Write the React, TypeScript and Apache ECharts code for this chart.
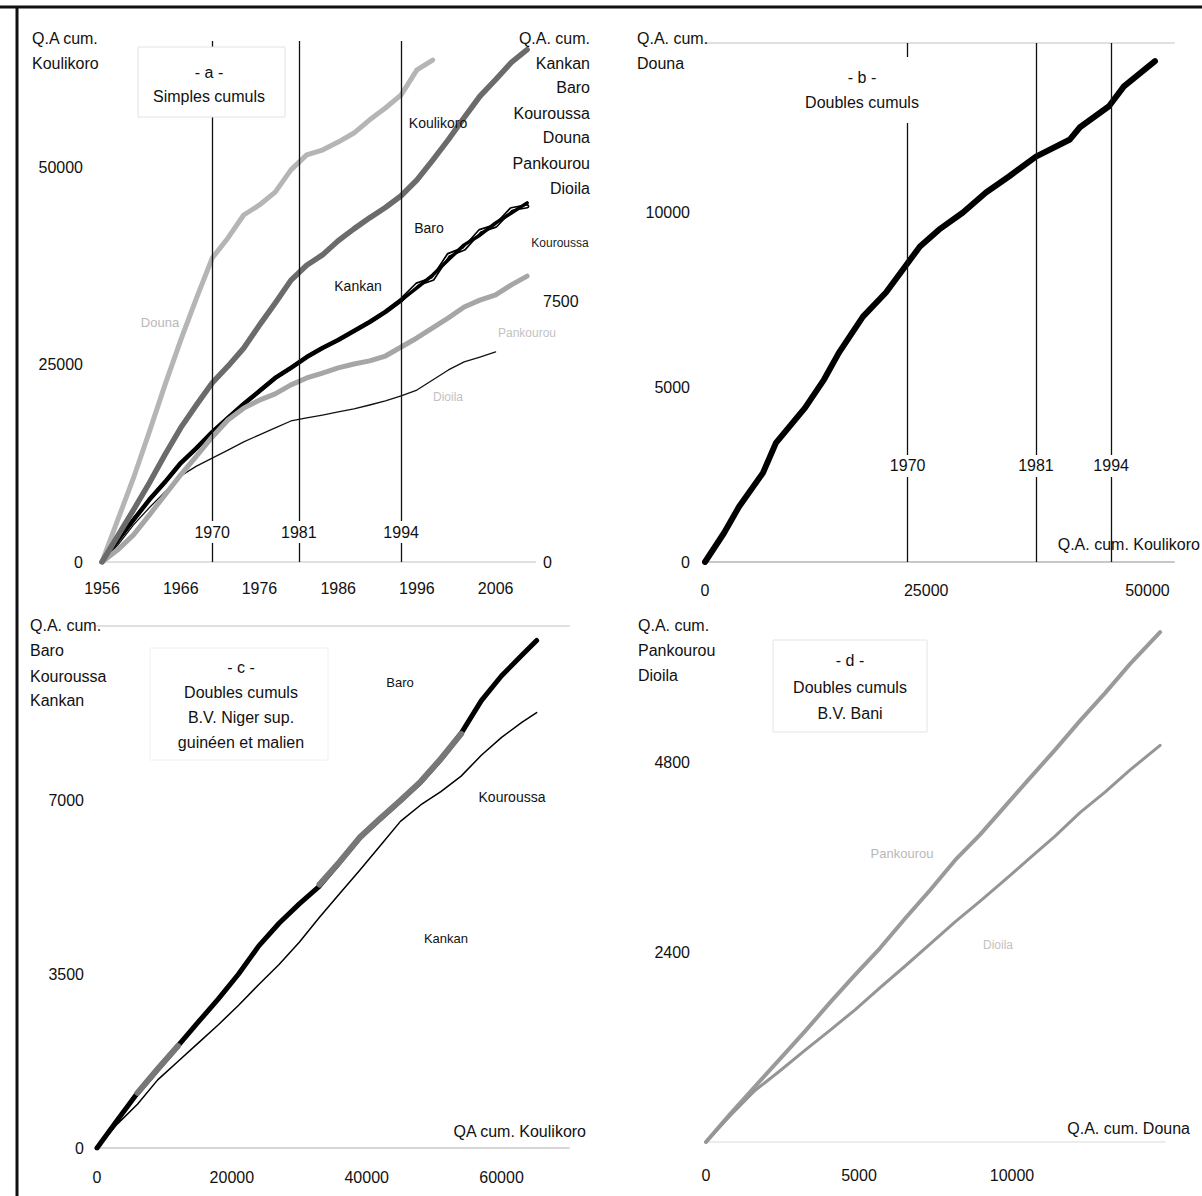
import React, { useEffect, useRef } from "react";
import * as echarts from "echarts";

const FONT = '"Liberation Sans", Arial, Helvetica, sans-serif';

// ---------- Panel a : simples cumuls (années) ----------
const yearsA = [1956, 1958, 1960, 1962, 1964, 1966, 1968, 1970, 1972, 1974, 1976, 1978, 1980, 1982, 1984, 1986, 1988, 1990, 1992, 1994, 1996, 1998, 2000, 2002, 2004, 2006, 2008, 2010];
const koulikoroA = [0, 3300, 6600, 10000, 13600, 17000, 19900, 22700, 24800, 27100, 30000, 32800, 35700, 37600, 38900, 40700, 42200, 43600, 44900, 46400, 48400, 50900, 53500, 56300, 59000, 61100, 63300, 64900];
const dounaA = [0, 1210, 2420, 3740, 5100, 6390, 7600, 8750, 9330, 9990, 10280, 10650, 11290, 11720, 11860, 12090, 12350, 12730, 13070, 13450, 14170, 14450];
const kankanA = [0, 630, 1210, 1790, 2300, 2850, 3280, 3740, 4150, 4550, 4920, 5300, 5590, 5900, 6160, 6390, 6650, 6910, 7200, 7540, 7890, 8260, 8700, 9130, 9410, 9760, 10050, 10340];
const baroA = [0, 630, 1210, 1790, 2300, 2850, 3280, 3740, 4150, 4550, 4920, 5300, 5590, 5900, 6160, 6390, 6650, 6910, 7200, 7540, 7990, 8150, 8840, 9020, 9530, 9680, 10160, 10240];
const pankourouA = [0, 350, 780, 1350, 1930, 2510, 3050, 3600, 4090, 4430, 4660, 4840, 5100, 5300, 5440, 5590, 5700, 5790, 5930, 6190, 6450, 6740, 7030, 7340, 7540, 7690, 7980, 8230];
const dioilaA = [0, 490, 1070, 1560, 2020, 2480, 2760, 2990, 3220, 3460, 3660, 3860, 4060, 4150, 4230, 4320, 4410, 4520, 4640, 4780, 4950, 5240, 5530, 5760, 5900, 6050];
const yearTicksA = [1956, 1966, 1976, 1986, 1996, 2006];
const leftTicksA = [0, 25000, 50000];
const rightTicksA = [0, 7500];
const yearMarks = [1970, 1981, 1994];
const yearNames = ["1970", "1981", "1994"];
const yearLabelLevelA = 3800; // hauteur des étiquettes d'années (axe gauche)

// ---------- Panel b : doubles cumuls Douna / Koulikoro ----------
const bKoulikoro = [0, 2150, 3840, 6550, 8020, 11300, 13450, 15140, 17850, 20450, 22600, 24290, 26440, 29150, 31750, 34350, 37400, 41240, 42370, 45650, 47340, 50850];
const bDouna = [0, 830, 1580, 2550, 3410, 4410, 5220, 5990, 7020, 7710, 8450, 9030, 9510, 10000, 10570, 11030, 11600, 12090, 12440, 13040, 13610, 14330];
const bYearMarks = [22900, 37400, 45900];
const bXTicks = [0, 25000, 50000];
const bYTicks = [0, 5000, 10000];
const yearLabelLevelB = 2750;

// ---------- Panel c : doubles cumuls B.V. Niger ----------
const cKoulikoro = [0, 3000, 6000, 9000, 12000, 15000, 18000, 21000, 24000, 27000, 30000, 33000, 36000, 39000, 42000, 45000, 48000, 51000, 54000, 57000, 60000, 63000, 65200];
const cKankan = [0, 560, 1106, 1580, 2055, 2530, 3000, 3500, 4065, 4520, 4910, 5270, 5750, 6245, 6620, 6985, 7360, 7820, 8340, 9000, 9500, 9910, 10210];
const cBaro = [null, null, 1110, 1590, 2050, null, null, null, null, null, null, 5300, 5760, 6250, 6630, 6990, 7370, 7830, 8330, null, null, null, null];
const cKouroussa = [0, 480, 880, 1370, 1740, 2110, 2480, 2870, 3290, 3690, 4140, 4640, 5120, 5590, 6080, 6570, 6900, 7170, 7480, 7900, 8260, 8560, 8760];
const cXTicks = [0, 20000, 40000, 60000];
const cYTicks = [0, 3500, 7000];

// ---------- Panel d : doubles cumuls B.V. Bani ----------
const dDouna = [0, 780, 1600, 2420, 3240, 4050, 4870, 5690, 6500, 7320, 8140, 8950, 9770, 10590, 11400, 12220, 13040, 13860, 14840];
const dPankourou = [0, 350, 700, 1050, 1400, 1760, 2110, 2450, 2820, 3180, 3560, 3880, 4240, 4600, 4950, 5320, 5670, 6040, 6440];
const dDioila = [0, 330, 650, 900, 1160, 1410, 1670, 1950, 2220, 2500, 2780, 3040, 3310, 3590, 3860, 4160, 4420, 4700, 5010];
const dXTicks = [0, 5000, 10000];
const dYTicks = [2400, 4800];

const pairs = (xs: number[], ys: (number | null)[]) =>
  ys.map((y, i) => [xs[i], y]);

const only = (list: number[]) => (v: number) => (list.includes(v) ? String(v) : "");

const labelStyle = { fontFamily: FONT, fontSize: 16, color: "#111" };

function lineSeries(name: string, xi: number, yi: number, data: any[], color: string, width: number, extra: any = {}) {
  return {
    name,
    type: "line",
    xAxisIndex: xi,
    yAxisIndex: yi,
    data,
    showSymbol: false,
    symbol: "none",
    connectNulls: false,
    lineStyle: { color, width, cap: "round", join: "round" },
    emphasis: { disabled: true },
    silent: true,
    ...extra,
  };
}

function txt(text: string, x: number, y: number, align: string, size = 16, fill = "#111", extra: any = {}) {
  return {
    type: "text",
    x,
    y,
    z: 100,
    silent: true,
    style: {
      text,
      fill,
      font: `${size}px ${FONT}`,
      textAlign: align,
      textVerticalAlign: "middle",
      ...extra,
    },
  };
}

function box(x: number, y: number, w: number, h: number, stroke = "none") {
  return {
    type: "rect",
    z: 90,
    silent: true,
    shape: { x, y, width: w, height: h },
    style: { fill: "#fff", stroke, lineWidth: 1 },
  };
}

function yearMarkerSeries(xi: number, yi: number, marks: number[], level: number) {
  return {
    type: "scatter",
    xAxisIndex: xi,
    yAxisIndex: yi,
    z: 5,
    silent: true,
    symbolSize: 0,
    itemStyle: { opacity: 1 },
    data: marks.map((m) => [m, level]),
    label: {
      show: true,
      position: "inside",
      formatter: (p: any) => yearNames[p.dataIndex],
      fontFamily: FONT,
      fontSize: 16,
      color: "#111",
      opacity: 1,
      textBorderWidth: 0,
      textBorderColor: "transparent",
      backgroundColor: "#fff",
      padding: [3, 2],
    },
    markLine: {
      silent: true,
      symbol: ["none", "none"],
      label: { show: false },
      lineStyle: { color: "#111", width: 1.3, type: "solid" },
      emphasis: { disabled: true },
      data: marks.map((m) => ({ xAxis: m })),
    },
  };
}

export default function App() {
  const ref = useRef<HTMLDivElement>(null);

  useEffect(() => {
    if (!ref.current) return;
    const chart = echarts.init(ref.current, undefined, { renderer: "svg" });

    const bottomAxisLine = (color: string) => ({ show: true, lineStyle: { color, width: 2 } });
    const hiddenTop = (gridIndex: number, min: number, max: number) => ({
      type: "value",
      gridIndex,
      position: "top",
      min,
      max,
      axisLine: { show: true, lineStyle: { color: "#e0e0e0", width: 2 } },
      axisTick: { show: false },
      axisLabel: { show: false },
      splitLine: { show: false },
    });

    const option: any = {
      animation: false,
      backgroundColor: "#fff",
      grid: [
        { left: 102, top: 41, right: 667, bottom: 634, outerBoundsMode: "none" },
        { left: 705, top: 43, right: 28, bottom: 634, outerBoundsMode: "none" },
        { left: 97, top: 626, right: 633, bottom: 48, outerBoundsMode: "none" },
        { left: 706, top: 572, right: 37, bottom: 54, outerBoundsMode: "none" },
      ],
      xAxis: [
        {
          type: "value", gridIndex: 0, min: 1956, max: 2011, interval: 10,
          axisLine: bottomAxisLine("#c4c4c4"), axisTick: { show: false }, splitLine: { show: false },
          axisLabel: { ...labelStyle, margin: 18, formatter: only(yearTicksA) },
        },
        hiddenTop(0, 1956, 2011),
        {
          type: "value", gridIndex: 1, min: 0, max: 53000, interval: 25000,
          axisLine: bottomAxisLine("#c8c8c8"), axisTick: { show: false }, splitLine: { show: false },
          axisLabel: { ...labelStyle, margin: 20, formatter: only(bXTicks) },
        },
        hiddenTop(1, 0, 53000),
        {
          type: "value", gridIndex: 2, min: 0, max: 70000, interval: 20000,
          axisLine: bottomAxisLine("#d6d6d6"), axisTick: { show: false }, splitLine: { show: false },
          axisLabel: { ...labelStyle, margin: 21, formatter: only(cXTicks) },
        },
        hiddenTop(2, 0, 70000),
        {
          type: "value", gridIndex: 3, min: 0, max: 15000, interval: 5000,
          axisLine: bottomAxisLine("#ececec"), axisTick: { show: false }, splitLine: { show: false },
          axisLabel: { ...labelStyle, margin: 25, formatter: only(dXTicks) },
        },
      ],
      yAxis: [
        {
          type: "value", gridIndex: 0, min: 0, max: 66000, interval: 25000,
          axisLine: { show: false }, axisTick: { show: false }, splitLine: { show: false },
          axisLabel: { ...labelStyle, margin: 19, formatter: only(leftTicksA) },
        },
        {
          type: "value", gridIndex: 0, position: "right", min: 0, max: 15000, interval: 7500,
          axisLine: { show: false }, axisTick: { show: false }, splitLine: { show: false },
          axisLabel: { ...labelStyle, margin: 8, formatter: only(rightTicksA) },
        },
        {
          type: "value", gridIndex: 1, min: 0, max: 14850, interval: 5000,
          axisLine: { show: false }, axisTick: { show: false }, splitLine: { show: false },
          axisLabel: { ...labelStyle, margin: 15, formatter: only(bYTicks) },
        },
        {
          type: "value", gridIndex: 2, min: 0, max: 10500, interval: 3500,
          axisLine: { show: false }, axisTick: { show: false }, splitLine: { show: false },
          axisLabel: { ...labelStyle, margin: 13, formatter: only(cYTicks) },
        },
        {
          type: "value", gridIndex: 3, min: 0, max: 7200, interval: 2400,
          axisLine: { show: false }, axisTick: { show: false }, splitLine: { show: false },
          axisLabel: { ...labelStyle, margin: 16, formatter: only(dYTicks) },
        },
      ],
      series: [
        // panel a
        lineSeries("Baro", 0, 1, pairs(yearsA, baroA), "#000", 4.5),
        lineSeries("Baro (trait)", 0, 1, pairs(yearsA, baroA), "#fff", 1.2),
        lineSeries("Kankan", 0, 1, pairs(yearsA, kankanA), "#000", 3.5),
        lineSeries("Dioila", 0, 1, pairs(yearsA, dioilaA), "#111", 1.3),
        lineSeries("Pankourou", 0, 1, pairs(yearsA, pankourouA), "#a6a6a6", 5),
        lineSeries("Douna", 0, 1, pairs(yearsA, dounaA), "#b5b5b5", 5),
        lineSeries("Koulikoro", 0, 0, pairs(yearsA, koulikoroA), "#6b6b6b", 5.5),
        yearMarkerSeries(0, 0, yearMarks, yearLabelLevelA),
        // panel b
        lineSeries("Douna / Koulikoro", 2, 2, pairs(bKoulikoro, bDouna), "#000", 6),
        yearMarkerSeries(2, 2, bYearMarks, yearLabelLevelB),
        // panel c
        lineSeries("Kankan", 4, 3, pairs(cKoulikoro, cKankan), "#000", 5),
        lineSeries("Baro", 4, 3, pairs(cKoulikoro, cBaro), "#777", 6),
        lineSeries("Kouroussa", 4, 3, pairs(cKoulikoro, cKouroussa), "#000", 1.5),
        // panel d
        lineSeries("Pankourou", 6, 4, pairs(dDouna, dPankourou), "#9a9a9a", 4),
        lineSeries("Dioila", 6, 4, pairs(dDouna, dDioila), "#959595", 3),
      ],
      graphic: {
        elements: [
          // frame
          { type: "line", z: 100, silent: true, shape: { x1: 0, y1: 7, x2: 1202, y2: 7 }, style: { stroke: "#111", lineWidth: 3 } },
          { type: "line", z: 100, silent: true, shape: { x1: 17, y1: 7, x2: 17, y2: 1196 }, style: { stroke: "#111", lineWidth: 3 } },

          // panel a
          box(138, 47, 147, 70, "#e2e2e2"),
          txt("- a -", 209, 72, "center"),
          txt("Simples cumuls", 209, 96, "center"),
          txt("Q.A cum.", 32, 38, "left"),
          txt("Koulikoro", 32, 63, "left"),
          txt("Q.A. cum.", 590, 38, "right"),
          txt("Kankan", 590, 63, "right"),
          txt("Baro", 590, 87, "right"),
          txt("Kouroussa", 590, 113, "right"),
          txt("Douna", 590, 137, "right"),
          txt("Pankourou", 590, 163, "right"),
          txt("Dioila", 590, 188, "right"),
          txt("Koulikoro", 438, 123, "center", 14),
          txt("Baro", 429, 228, "center", 14),
          txt("Kankan", 358, 286, "center", 14),
          txt("Kouroussa", 560, 243, "center", 12, "#222"),
          txt("Douna", 160, 322, "center", 13, "#b8b8b8"),
          txt("Pankourou", 527, 333, "center", 12, "#c2c2c2"),
          txt("Dioila", 448, 397, "center", 12, "#c2c2c2"),

          // panel b
          box(790, 57, 145, 66),
          txt("- b -", 862, 77, "center"),
          txt("Doubles cumuls", 862, 102, "center"),
          txt("Q.A. cum.", 637, 38, "left"),
          txt("Douna", 637, 63, "left"),
          txt("Q.A. cum. Koulikoro", 1200, 544, "right"),

          // panel c
          box(150, 648, 178, 112, "#f0f0f0"),
          txt("- c -", 241, 667, "center"),
          txt("Doubles cumuls", 241, 692, "center"),
          txt("B.V. Niger sup.", 241, 717, "center"),
          txt("guinéen et malien", 241, 742, "center"),
          txt("Q.A. cum.", 30, 625, "left"),
          txt("Baro", 30, 650, "left"),
          txt("Kouroussa", 30, 676, "left"),
          txt("Kankan", 30, 700, "left"),
          txt("Baro", 400, 682, "center", 13),
          txt("Kouroussa", 512, 797, "center", 14),
          txt("Kankan", 446, 938, "center", 13),
          txt("QA cum. Koulikoro", 586, 1131, "right"),

          // panel d
          box(773, 640, 154, 92, "#e4e4e4"),
          txt("- d -", 850, 660, "center"),
          txt("Doubles cumuls", 850, 687, "center"),
          txt("B.V. Bani", 850, 713, "center"),
          txt("Q.A. cum.", 638, 625, "left"),
          txt("Pankourou", 638, 650, "left"),
          txt("Dioila", 638, 675, "left"),
          txt("Pankourou", 902, 853, "center", 13, "#b8b8b8"),
          txt("Dioila", 998, 945, "center", 12, "#c2c2c2"),
          txt("Q.A. cum. Douna", 1190, 1128, "right"),
        ],
      },
    };

    chart.setOption(option);
    return () => chart.dispose();
  }, []);

  return (
    <div
      ref={ref}
      style={{ position: "absolute", left: 0, top: 0, width: 1202, height: 1196, background: "#fff" }}
    />
  );
}
